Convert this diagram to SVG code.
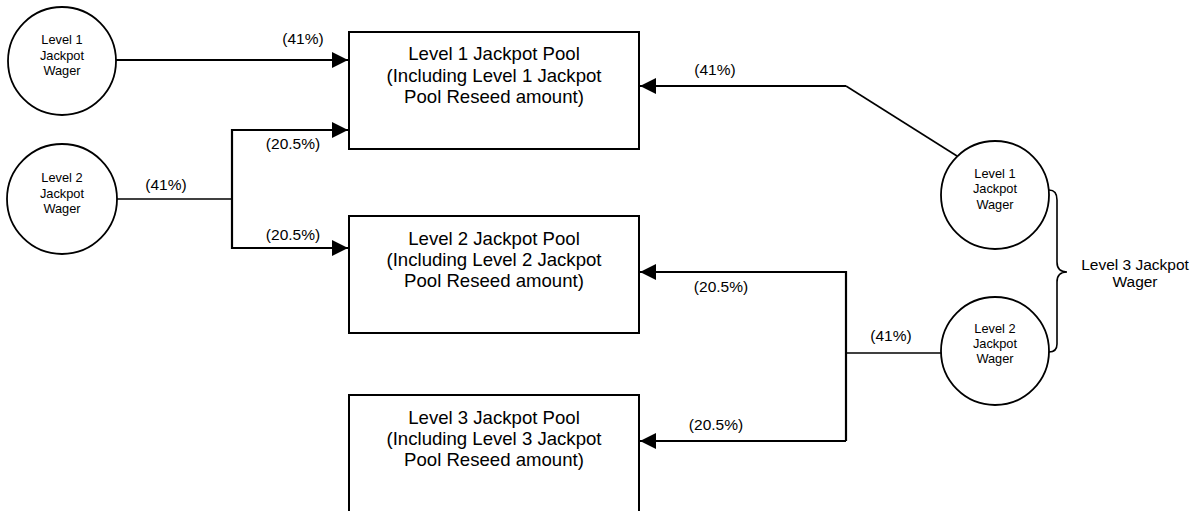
<svg xmlns="http://www.w3.org/2000/svg" width="1200" height="511" viewBox="0 0 1200 511">
<style>
  text { font-family: "Liberation Sans", Arial, sans-serif; fill: #000; }
  .ct { font-size: 12.8px; text-anchor: middle; }
  .bt { font-size: 18.6px; text-anchor: middle; }
  .lb { font-size: 15.5px; text-anchor: middle; }
  .circ { fill: #fff; stroke: #000; stroke-width: 1.8; }
  .box { fill: #fff; stroke: #000; stroke-width: 2; }
  .ln { fill: none; stroke: #000; stroke-width: 2.2; }
  .thin { fill: none; stroke: #000; stroke-width: 1.6; }
</style>
<defs>
  <marker id="arr" viewBox="0 0 16 16" refX="16" refY="8" markerWidth="16" markerHeight="16" markerUnits="userSpaceOnUse" orient="auto">
    <path d="M0,0 L16,8 L0,16 z" fill="#000"/>
  </marker>
</defs>
<rect width="1200" height="511" fill="#fff"/>

<g id="connectors">
  <path class="ln" d="M116,60 H348" marker-end="url(#arr)"/>
  <path class="thin" d="M116,199 H232"/>
  <path class="ln" d="M348,130 H232 V248 H348" marker-end="url(#arr)"/>
  <path class="ln" d="M232,130 H348" marker-end="url(#arr)"/>
  <path class="thin" d="M957,156 L846,86"/>
  <path class="ln" d="M846,86 H640" marker-end="url(#arr)"/>
  <path class="thin" d="M941,353 H846"/>
  <path class="ln" d="M846,441 V272 H640" marker-end="url(#arr)"/>
  <path class="ln" d="M846,441 H640" marker-end="url(#arr)"/>
  <path class="thin" d="M1049,190 Q1057,190 1057,200 V262 Q1057,272 1067,272 Q1057,272 1057,282 V344 Q1057,352 1049,352"/>
  <text class="lb" x="303" y="44">(41%)</text>
  <text class="lb" x="166" y="190">(41%)</text>
  <text class="lb" x="293" y="149">(20.5%)</text>
  <text class="lb" x="293" y="240">(20.5%)</text>
  <text class="lb" x="715" y="75">(41%)</text>
  <text class="lb" x="721" y="292">(20.5%)</text>
  <text class="lb" x="891" y="341">(41%)</text>
  <text class="lb" x="716" y="430">(20.5%)</text>
</g>

<g id="l1wager">
  <circle class="circ" cx="62" cy="61" r="54"/>
  <text class="ct" x="62" y="44">Level 1</text>
  <text class="ct" x="62" y="60">Jackpot</text>
  <text class="ct" x="62" y="75">Wager</text>
</g>
<g id="l2wager">
  <circle class="circ" cx="62" cy="199" r="55"/>
  <text class="ct" x="62" y="182">Level 2</text>
  <text class="ct" x="62" y="198">Jackpot</text>
  <text class="ct" x="62" y="213">Wager</text>
</g>
<g id="pool1">
  <rect class="box" x="349" y="32" width="290" height="117"/>
  <text class="bt" x="494" y="60">Level 1 Jackpot Pool</text>
  <text class="bt" x="494" y="82">(Including Level 1 Jackpot</text>
  <text class="bt" x="494" y="103">Pool Reseed amount)</text>
</g>
<g id="pool2">
  <rect class="box" x="349" y="216" width="290" height="117"/>
  <text class="bt" x="494" y="245">Level 2 Jackpot Pool</text>
  <text class="bt" x="494" y="266">(Including Level 2 Jackpot</text>
  <text class="bt" x="494" y="287">Pool Reseed amount)</text>
</g>
<g id="pool3">
  <rect class="box" x="349" y="395" width="290" height="117"/>
  <text class="bt" x="494" y="424">Level 3 Jackpot Pool</text>
  <text class="bt" x="494" y="445">(Including Level 3 Jackpot</text>
  <text class="bt" x="494" y="466">Pool Reseed amount)</text>
</g>
<g id="r1wager">
  <circle class="circ" cx="995" cy="195" r="54"/>
  <text class="ct" x="995" y="178">Level 1</text>
  <text class="ct" x="995" y="193">Jackpot</text>
  <text class="ct" x="995" y="209">Wager</text>
</g>
<g id="r2wager">
  <circle class="circ" cx="995" cy="351" r="54"/>
  <text class="ct" x="995" y="333">Level 2</text>
  <text class="ct" x="995" y="348">Jackpot</text>
  <text class="ct" x="995" y="363">Wager</text>
</g>
<g id="l3label">
  <text class="lb" x="1135" y="270">Level 3 Jackpot</text>
  <text class="lb" x="1135" y="287">Wager</text>
</g>
</svg>
